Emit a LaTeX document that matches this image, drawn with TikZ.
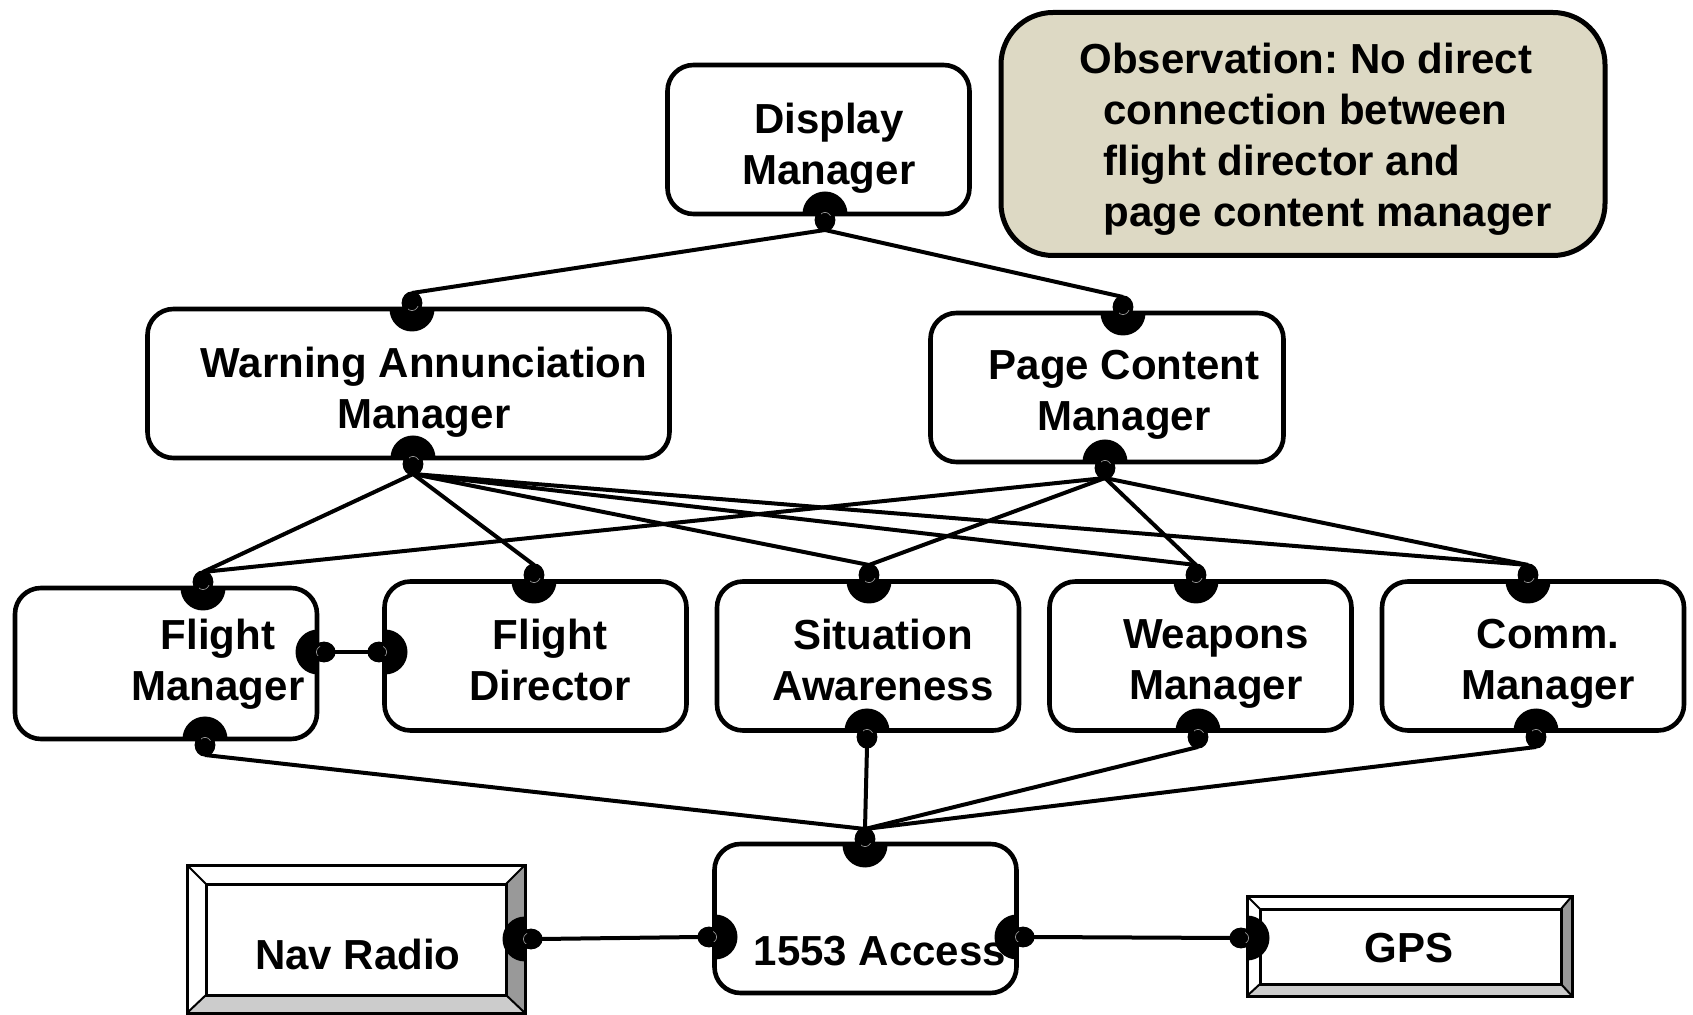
\documentclass[tikz,border=0pt]{standalone}
\usepackage{fontspec}
\setmainfont{Liberation Sans}
\usetikzlibrary{calc}
\definecolor{obsfill}{RGB}{221,217,196}
\definecolor{bevdark}{RGB}{153,153,153}
\definecolor{bevlight}{RGB}{204,204,204}
\begin{document}
\frenchspacing
\begin{tikzpicture}[x=0.5pt,y=-0.5pt,
  font=\bfseries\fontsize{21}{25.5}\selectfont,
  box/.style={draw, line width=2.3pt, rounded corners=13pt, fill=white, inner sep=0pt,
              minimum width=151pt, minimum height=74.5pt},
  txt/.style={align=center, inner sep=0pt, execute at begin node=\strut, execute at end node=\strut},
  conn/.style={line width=2pt},
  bevline/.style={line width=1.5pt},
  hl/.style={gray!70, line width=0.3pt},
  portS/.pic={
    \begin{scope}\clip (-30,-30) rectangle (30,0); \fill (0,0) circle[radius=11.25pt]; \end{scope}
    \fill (0,6) ellipse[x radius=5.2pt, y radius=5.8pt];
    \begin{scope}\clip (-4,-30) rectangle (30,2); \draw[hl] (0,6) ellipse[x radius=3.3pt, y radius=3.8pt]; \end{scope}
    \coordinate (-tip) at (0,16);
  },
  portN/.pic={
    \begin{scope}\clip (-30,0) rectangle (30,30); \fill (0,0) circle[radius=11.25pt]; \end{scope}
    \fill (0,-6) ellipse[x radius=5.2pt, y radius=5.8pt];
    \begin{scope}\clip (-4,-2) rectangle (30,30); \draw[hl] (0,-6) ellipse[x radius=3.3pt, y radius=3.8pt]; \end{scope}
    \coordinate (-tip) at (0,-16);
  },
  portE/.pic={
    \begin{scope}\clip (-30,-30) rectangle (0,30); \fill (0,0) circle[radius=11.25pt]; \end{scope}
    \fill (6,0) ellipse[x radius=5.8pt, y radius=5.2pt];
    \begin{scope}\clip (-30,-30) rectangle (2,4); \draw[hl] (6,0) ellipse[x radius=3.8pt, y radius=3.3pt]; \end{scope}
    \coordinate (-tip) at (16,0);
  },
  portW/.pic={
    \begin{scope}\clip (0,-30) rectangle (30,30); \fill (0,0) circle[radius=11.25pt]; \end{scope}
    \fill (-6,0) ellipse[x radius=5.8pt, y radius=5.2pt];
    \begin{scope}\clip (-2,-30) rectangle (30,4); \draw[hl] (-6,0) ellipse[x radius=3.8pt, y radius=3.3pt]; \end{scope}
    \coordinate (-tip) at (-16,0);
  }
]
\useasboundingbox (0,0) rectangle (1693,1015);

% ---------- rounded boxes ----------
\node[box] (dm)  at (818.5,139.5) {};
\node[box, minimum width=261pt] (wam) at (408.5,383.5) {};
\node[box, minimum width=176.5pt] (pcm) at (1107,387.5) {};
\node[box, minimum height=75.5pt] (fm) at (166,663.5) {};
\node[box] (fd)  at (535.5,656) {};
\node[box] (sa)  at (868,656) {};
\node[box] (wm)  at (1200.5,656) {};
\node[box] (cm)  at (1533,656) {};
\node[box] (acc) at (865.5,918.5) {};

% ---------- observation ----------
\node[draw, line width=2.5pt, fill=obsfill, rounded corners=26pt, minimum width=302pt,
      minimum height=121.5pt, inner sep=0pt] (obs) at (1303,134) {};
\node[align=left, inner sep=0pt, anchor=west] (obsT) at (1103,139)
  {\hspace*{-12pt}Observation: No direct\\connection between\\flight director and\\page content manager};

% ---------- bevelled boxes ----------
\node[draw, bevline, fill=white, minimum width=169pt, minimum height=74pt, inner sep=0pt] (nav) at (356,939) {};
\fill[bevdark]  (525,865) -- (525,1013) -- (506,995) -- (506,884) -- cycle;
\fill[bevlight] (187,1013) -- (525,1013) -- (506,995) -- (206,995) -- cycle;
\draw[line width=1pt] (187,865) -- (206,884) (525,865) -- (506,884) (187,1013) -- (206,995) (525,1013) -- (506,995);
\draw[bevline] (206,884) rectangle (506,995);
\draw[bevline] (187,865) rectangle (525,1013);

\node[draw, bevline, fill=white, minimum width=162.5pt, minimum height=50pt, inner sep=0pt] (gps) at (1409.5,946) {};
\fill[bevdark]  (1572,896) -- (1572,996) -- (1561,984) -- (1561,909) -- cycle;
\fill[bevlight] (1247,996) -- (1572,996) -- (1561,984) -- (1260,984) -- cycle;
\draw[line width=1pt] (1247,896) -- (1260,909) (1572,896) -- (1561,909) (1247,996) -- (1260,984) (1572,996) -- (1561,984);
\draw[bevline] (1260,909) rectangle (1561,984);
\draw[bevline] (1247,896) rectangle (1572,996);

% ---------- texts ----------
\node[txt] (dmT)  at (829,151)  {Display\\Manager};
\node[txt] (wamT) at (424,395)  {Warning Annunciation\\Manager};
\node[txt] (pcmT) at (1124,398) {Page Content\\Manager};
\node[txt] (fmT)  at (218,667)  {Flight\\Manager};
\node[txt] (fdT)  at (550,667)  {Flight\\Director};
\node[txt] (saT)  at (883,667)  {Situation\\Awareness};
\node[txt] (wmT)  at (1216,667) {Weapons\\Manager};
\node[txt] (cmT)  at (1548,667) {Comm.\\Manager};
\node[txt] (accT) at (880,955)  {1553 Access};
\node[txt] (navT) at (358,959)  {Nav Radio};
\node[txt] (gpsT) at (1409,952) {GPS};

% ---------- port positions ----------
\coordinate (pdmS)  at (825,214);
\coordinate (pwamN) at (412,309);
\coordinate (ppcmN) at (1123,313);
\coordinate (pwamS) at (413,458);
\coordinate (ppcmS) at (1105,462);
\coordinate (pfmN)  at (203,588);
\coordinate (pfdN)  at (534,581);
\coordinate (psaN)  at (869,581);
\coordinate (pwmN)  at (1196,581);
\coordinate (pcmN)  at (1528,581);
\coordinate (pfmE)  at (318,652);
\coordinate (pfdW)  at (385,652);
\coordinate (pfmS)  at (205,739);
\coordinate (psaS)  at (867,731);
\coordinate (pwmS)  at (1198,731);
\coordinate (pcmS)  at (1536,731);
\coordinate (paccN) at (865,845);
\coordinate (paccW) at (715,937);
\coordinate (paccE) at (1017,937);
\coordinate (pnavE) at (525,939);
\coordinate (pgpsW) at (1247,938);

\pic (dmS)  at (pdmS)  {portS};
\pic (wamN) at (pwamN) {portN};
\pic (pcmN) at (ppcmN) {portN};
\pic (wamS) at (pwamS) {portS};
\pic (pcmS) at (ppcmS) {portS};
\pic (fmN)  at (pfmN)  {portN};
\pic (fdN)  at (pfdN)  {portN};
\pic (saN)  at (psaN)  {portN};
\pic (wmN)  at (pwmN)  {portN};
\pic (cmN)  at (pcmN)  {portN};
\pic (fmE)  at (pfmE)  {portE};
\pic (fdW)  at (pfdW)  {portW};
\pic (fmS)  at (pfmS)  {portS};
\pic (saS)  at (psaS)  {portS};
\pic (wmS)  at (pwmS)  {portS};
\pic (cmS)  at (pcmS)  {portS};
\pic (accN) at (paccN) {portN};
\pic (accW) at (paccW) {portW};
\pic (accE) at (paccE) {portE};
\pic (navE) at (pnavE) {portE};
\pic (gpsW) at (pgpsW) {portW};

% ---------- connectors ----------
\draw[conn] (wamN-tip) -- (dmS-tip) -- (pcmN-tip);
\foreach \t in {fmN,fdN,saN,wmN,cmN} \draw[conn] (wamS-tip) -- (\t-tip);
\foreach \t in {fmN,saN,wmN,cmN} \draw[conn] (pcmS-tip) -- (\t-tip);
\draw[conn] (fmE-tip) -- (fdW-tip);
\foreach \s in {fmS,saS,wmS,cmS} \draw[conn] (\s-tip) -- (accN-tip);
\draw[conn] (navE-tip) -- (accW-tip);
\draw[conn] (accE-tip) -- (gpsW-tip);
\end{tikzpicture}
\end{document}
